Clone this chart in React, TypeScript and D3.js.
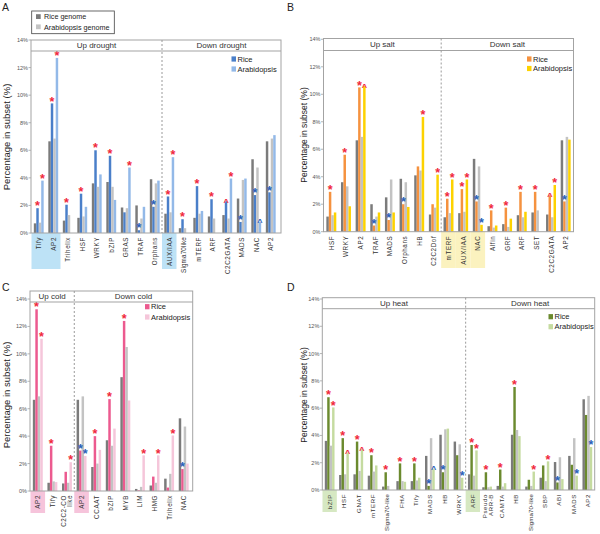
import React from "react";
import * as d3 from "d3";

const FONT = "'Liberation Sans', Arial, Helvetica, sans-serif";

// ---------- Panel A: drought ----------
const catsA = ["Tify", "AP2", "Trihelix", "HSF", "WRKY", "bZIP", "GRAS", "TRAF", "Orphans", "AUX/IAA", "Sigma70like", "mTERF", "ARF", "C2C2GATA", "MADS", "NAC", "AP2"];
const riceGenomeA = [0.7, 6.65, 0.9, 1.1, 3.6, 3.7, 1.85, 2.0, 3.9, 1.4, 0.35, 1.1, 1.2, 1.3, 2.5, 5.35, 6.65];
const riceA = [1.8, 9.4, 2.05, 2.85, 6.0, 5.6, 1.5, 0.2, 1.9, 2.65, 1.0, 3.4, 2.45, 2.3, 0.8, 2.75, 2.95];
const araGenomeA = [0.75, 6.85, 1.3, 1.2, 3.35, 3.35, 1.8, 1.05, 3.6, 1.5, 0.35, 1.4, 1.05, 1.05, 3.85, 4.75, 6.85];
const araA = [3.8, 12.7, 0, 1.9, 4.25, 2.4, 4.75, 1.9, 3.8, 5.5, 0, 1.6, 0, 3.95, 3.95, 0.8, 7.1];
const riceMarkA = ["r*", "r*", "r*", "r*", "r*", "r*", "", "b*", "b*", "r*", "r*", "r*", "r*", "r^", "b*", "b*", "b*"];
const araMarkA = ["r*", "r*", "", "", "", "", "r*", "", "", "r*", "", "", "", "r*", "", "b^", ""];

// ---------- Panel B: salt ----------
const catsB = ["HSF", "WRKY", "AP2", "TRAF", "MADS", "Orphans", "HB", "C2C2Dof", "mTERF", "AUX/IAA", "NAC", "Alfin", "GRF", "ARF", "SET", "C2C2GATA", "AP2"];
const riceGenomeB = [1.1, 3.6, 6.65, 2.0, 2.5, 3.85, 4.1, 1.25, 1.05, 1.35, 5.3, 0.4, 0.55, 1.2, 1.4, 1.25, 6.65];
const riceB = [2.9, 5.6, 10.5, 0.45, 0.85, 2.0, 4.75, 2.0, 2.4, 3.1, 2.2, 1.55, 1.75, 2.9, 2.9, 2.65, 2.2];
const araGenomeB = [1.2, 3.3, 6.9, 1.1, 3.8, 3.6, 4.45, 1.75, 1.35, 1.45, 4.75, 0.3, 0.35, 1.05, 1.55, 1.05, 6.9];
const araB = [1.4, 1.85, 10.6, 1.4, 1.4, 1.8, 8.35, 4.15, 3.8, 3.8, 0.5, 0.45, 0.95, 1.45, 0, 3.4, 6.7];
const riceMarkB = ["r*", "r*", "r*", "b*", "b*", "b*", "", "", "r*", "r*", "b*", "r*", "r*", "r*", "r*", "r^", "b*"];
const araMarkB = ["", "", "r^", "", "", "", "r*", "r*", "r*", "r*", "b*", "", "", "", "", "r*", ""];

// ---------- Panel C: cold ----------
const catsC = ["AP2", "Tify", "C2C2-CO|like", "AP2", "CCAAT", "bZIP", "MYB", "LIM", "HMG", "Trihelix", "NAC"];
const riceGenomeC = [6.65, 0.6, 0.55, 6.65, 1.75, 3.7, 8.3, 0.15, 0.4, 0.9, 5.3];
const riceC = [13.25, 3.3, 1.4, 2.95, 4.0, 6.7, 12.4, 0.05, 1.05, 0.25, 1.6];
const araGenomeC = [6.9, 0.7, 0.6, 6.9, 2.0, 3.3, 10.5, 0.3, 0.6, 1.25, 4.7];
const araC = [11.1, 0.65, 2.1, 2.55, 3.0, 4.55, 6.6, 2.6, 2.6, 4.05, 2.0];
const riceMarkC = ["r*", "r*", "", "b*", "r*", "r*", "r*", "", "", "", "b*"];
const araMarkC = ["r*", "", "r*", "b*", "", "", "", "r*", "r*", "r*", ""];

// ---------- Panel D: heat ----------
const catsD = ["bZIP", "HSF", "GNAT", "mTERF", "Sigma70-like", "FHA", "Tify", "MADS", "HB", "WRKY", "ARF", "Pseudo|ARR-B", "CAMTA", "HB", "Sigma70-like", "SBP", "ABI", "MADS", "AP2"];
const riceGenomeD = [3.6, 1.1, 1.15, 1.05, 0.25, 0.65, 0.65, 2.5, 4.05, 3.55, 1.15, 0.2, 0.3, 4.05, 0.25, 0.9, 2.05, 2.5, 6.65];
const riceD = [6.8, 3.8, 3.55, 2.55, 1.3, 1.95, 1.95, 0.3, 1.3, 2.55, 3.3, 1.3, 1.5, 7.55, 0.75, 1.8, 0.55, 1.85, 5.5];
const araGenomeD = [3.25, 1.15, 1.4, 1.35, 0.3, 0.65, 0.7, 3.8, 4.45, 3.35, 1.05, 0.2, 0.25, 4.4, 0.3, 0.65, 2.4, 3.8, 6.9];
const araD = [6.05, 2.75, 3.0, 1.8, 0, 0.6, 0.9, 1.55, 4.5, 0.9, 2.9, 0.25, 0.5, 3.95, 1.35, 2.1, 0.8, 1.05, 3.15];
const riceMarkD = ["r*", "r*", "r*", "r*", "r*", "r*", "r*", "b*", "b*", "", "r*", "r*", "r*", "r*", "", "", "b*", "", ""];
const araMarkD = ["r*", "r^", "r^", "", "", "", "", "b^", "", "b*", "r*", "", "", "", "r*", "r*", "", "b*", "b*"];

const yTicks = [0, 2, 4, 6, 8, 10, 12, 14];

const GENOME_DARK = "#7b7b7b";
const GENOME_LIGHT = "#c3c3c3";
const FRAME = "#a3a3a3";
const RED = "#f0283c";
const BLUE = "#2a5fb8";

type PanelCfg = {
  letter: string; letterX: number; letterY: number;
  cats: string[]; split: number; headers: [string, string];
  series: number[][]; riceMark: string[]; araMark: string[];
  riceColor: string; araColor: string; hlColor: string; highlight: number[]; hlBottom: number;
  xRange: [number, number]; axisX: number; rightX: number;
  boxTop: number; headerBottom: number; headerY: number; y14: number; y0: number;
  legendX: number; legendY: number; legendGap: number;
  ylabX: number; ylabY: number; ylabSize: number; labSize: number;
};

const panels: PanelCfg[] = [
  {
    letter: "A", letterX: 2, letterY: 11,
    cats: catsA, split: 9, headers: ["Up drought", "Down drought"],
    series: [riceGenomeA, riceA, araGenomeA, araA], riceMark: riceMarkA, araMark: araMarkA,
    riceColor: "#4a7fc9", araColor: "#93b9e8", hlColor: "#bde2f6", highlight: [0, 1, 9], hlBottom: 269,
    xRange: [31.5, 278], axisX: 31, rightX: 281,
    boxTop: 40, headerBottom: 51, headerY: 45, y14: 40, y0: 233,
    legendX: 231.5, legendY: 59, legendGap: 10,
    ylabX: 6, ylabY: 137, ylabSize: 9.5, labSize: 6.3,
  },
  {
    letter: "B", letterX: 287, letterY: 11,
    cats: catsB, split: 8, headers: ["Up salt", "Down salt"],
    series: [riceGenomeB, riceB, araGenomeB, araB], riceMark: riceMarkB, araMark: araMarkB,
    riceColor: "#f5923f", araColor: "#fdd200", hlColor: "#fbf2bf", highlight: [8, 9, 10], hlBottom: 268,
    xRange: [324, 573], axisX: 323.5, rightX: 573.5,
    boxTop: 38.5, headerBottom: 50.5, headerY: 44.5, y14: 39.3, y0: 231.7,
    legendX: 527, legendY: 59, legendGap: 9.5,
    ylabX: 304, ylabY: 135, ylabSize: 8.5, labSize: 6.3,
  },
  {
    letter: "C", letterX: 2, letterY: 291,
    cats: catsC, split: 3, headers: ["Up cold", "Down cold"],
    series: [riceGenomeC, riceC, araGenomeC, araC], riceMark: riceMarkC, araMark: araMarkC,
    riceColor: "#ec5a8f", araColor: "#f5c6da", hlColor: "#f6c4db", highlight: [0, 3], hlBottom: 513,
    xRange: [30.5, 191], axisX: 30, rightX: 192.7,
    boxTop: 291, headerBottom: 302, headerY: 296.5, y14: 299, y0: 491,
    legendX: 145, legendY: 306.7, legendGap: 10.3,
    ylabX: 6, ylabY: 395, ylabSize: 9.5, labSize: 6.3,
  },
  {
    letter: "D", letterX: 287, letterY: 291,
    cats: catsD, split: 10, headers: ["Up heat", "Down heat"],
    series: [riceGenomeD, riceD, araGenomeD, araD], riceMark: riceMarkD, araMark: araMarkD,
    riceColor: "#6b8a2e", araColor: "#c5dba0", hlColor: "#d6e8c2", highlight: [0, 10], hlBottom: 512,
    xRange: [322.5, 594.5], axisX: 322.3, rightX: 594.7,
    boxTop: 297.7, headerBottom: 308.7, headerY: 303, y14: 299, y0: 490,
    legendX: 548.5, legendY: 316.7, legendGap: 10,
    ylabX: 304, ylabY: 395, ylabSize: 8.5, labSize: 6.1,
  },
];

function Mark({ code, x, y }: { code: string; x: number; y: number }) {
  if (!code) return null;
  const color = code[0] === "r" ? RED : BLUE;
  const ch = code[1];
  if (ch === "*") {
    return (
      <text x={x} y={y + 4.2} textAnchor="middle" fontSize={12.5} fontWeight="bold" fill={color} fontFamily={FONT}>*</text>
    );
  }
  return (
    <text x={x} y={y + 5.5} textAnchor="middle" fontSize={9} fontWeight="bold" fill={color} fontFamily={FONT}>^</text>
  );
}

function Panel({ p }: { p: PanelCfg }) {
  const idx = p.cats.map((_, i) => i);
  const xBand = d3.scaleBand<number>().domain(idx).range(p.xRange).padding(0);
  const step = xBand.step();
  const groupW = step * 0.68;
  const inner = d3.scaleBand<number>().domain([0, 1, 2, 3]).range([0, groupW]).padding(0);
  const y = d3.scaleLinear().domain([0, 14]).range([p.y0, p.y14]);
  const colors = [GENOME_DARK, p.riceColor, GENOME_LIGHT, p.araColor];
  const splitX = (xBand(p.split) as number);
  const gx = (i: number) => (xBand(i) as number) + (step - groupW) / 2;

  return (
    <g>
      <text x={p.letterX} y={p.letterY} fontSize={10.5} fill="#222" fontFamily={FONT}>{p.letter}</text>
      {p.highlight.map((i) => (
        <rect key={"h" + i} x={xBand(i) as number} y={p.y0} width={step} height={p.hlBottom - p.y0} fill={p.hlColor} />
      ))}
      {p.series.map((vals, s) =>
        vals.map((v, i) => (
          <rect key={`b${s}-${i}`} x={gx(i) + (inner(s) as number)} y={y(v)} width={inner.bandwidth()} height={p.y0 - y(v)} fill={colors[s]} />
        ))
      )}
      {p.riceMark.map((m, i) => (
        <Mark key={"rm" + i} code={m} x={gx(i) + (inner(1) as number) + inner.bandwidth() / 2} y={y(p.series[1][i]) - 2} />
      ))}
      {p.araMark.map((m, i) => (
        <Mark key={"am" + i} code={m} x={gx(i) + (inner(3) as number) + inner.bandwidth() / 2} y={y(p.series[3][i]) - 2} />
      ))}
      <rect x={p.axisX} y={p.boxTop} width={p.rightX - p.axisX} height={p.y0 - p.boxTop} fill="none" stroke={FRAME} strokeWidth={1} />
      <line x1={p.axisX} x2={p.rightX} y1={p.headerBottom} y2={p.headerBottom} stroke={FRAME} strokeWidth={1} />
      <line x1={splitX} x2={splitX} y1={p.boxTop} y2={p.y0} stroke="#9a9a9a" strokeWidth={1} strokeDasharray="2,2" />
      <text x={(p.axisX + splitX) / 2} y={p.headerY} textAnchor="middle" dominantBaseline="central" fontSize={8} fill="#333" fontFamily={FONT}>{p.headers[0]}</text>
      <text x={(splitX + p.rightX) / 2} y={p.headerY} textAnchor="middle" dominantBaseline="central" fontSize={8} fill="#333" fontFamily={FONT}>{p.headers[1]}</text>
      {yTicks.map((t) => (
        <g key={"t" + t}>
          <line x1={p.axisX - 2.5} x2={p.axisX} y1={y(t)} y2={y(t)} stroke={FRAME} strokeWidth={0.8} />
          <text x={p.axisX - 3} y={y(t)} textAnchor="end" dominantBaseline="central" fontSize={5.5} fill="#555" fontFamily={FONT}>{t}%</text>
        </g>
      ))}
      <text transform={`translate(${p.ylabX},${p.ylabY}) rotate(-90)`} textAnchor="middle" dominantBaseline="central" fontSize={p.ylabSize} fill="#222" fontFamily={FONT}>Percentage in subset (%)</text>
      {p.cats.map((c, i) => {
        const lines = c.split("|");
        const cx = (xBand(i) as number) + step / 2;
        return lines.map((ln, k) => {
          const off = (k - (lines.length - 1) / 2) * 6;
          const ls = ln.length > 9 ? 0.15 : 0.6;
          return (
            <text key={`c${i}-${k}`} transform={`translate(${cx + off},${p.y0 + 4}) rotate(-90)`} textAnchor="end" dominantBaseline="central" fontSize={p.labSize} letterSpacing={ls} fill="#333" fontFamily={FONT}>{ln}</text>
          );
        });
      })}
      {[["Rice", p.riceColor], ["Arabidopsis", p.araColor]].map(([lab, col], k) => (
        <g key={"l" + k}>
          <rect x={p.legendX} y={p.legendY + k * p.legendGap - 2.6} width={4.5} height={5.2} fill={col} />
          <text x={p.legendX + 6} y={p.legendY + k * p.legendGap} dominantBaseline="central" fontSize={7.5} fill="#222" fontFamily={FONT}>{lab}</text>
        </g>
      ))}
    </g>
  );
}

export default function App() {
  return (
    <svg width={600} height={534} viewBox="0 0 600 534" style={{ position: "absolute", left: 0, top: 0, background: "#fff" }}>
      <rect x={0} y={0} width={600} height={534} fill="#fff" />
      {panels.map((p) => (
        <Panel key={p.letter} p={p} />
      ))}
      <rect x={31.7} y={11} width={82.6} height={22.7} fill="none" stroke="#444" strokeWidth={0.8} />
      <rect x={36} y={14.2} width={4.7} height={4.8} fill={GENOME_DARK} />
      <text x={44} y={16.8} dominantBaseline="central" fontSize={7.2} fill="#222" fontFamily={FONT}>Rice genome</text>
      <rect x={36} y={24.4} width={4.7} height={4.8} fill={GENOME_LIGHT} />
      <text x={44} y={27} dominantBaseline="central" fontSize={7.2} fill="#222" fontFamily={FONT}>Arabidopsis genome</text>
    </svg>
  );
}
